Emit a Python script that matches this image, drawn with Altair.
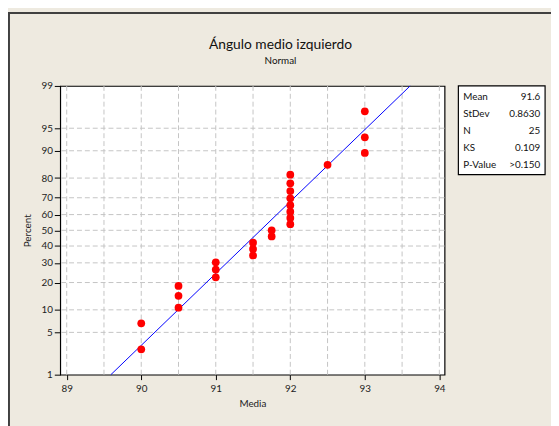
import altair as alt
import pandas as pd
from statistics import NormalDist

chart_title = "Ángulo medio izquierdo"
chart_subtitle = "Normal"
media = [90, 90, 90.5, 90.5, 90.5, 91, 91, 91, 91.5, 91.5, 91.5, 91.75, 91.75,
         92, 92, 92, 92, 92, 92, 92, 92, 92.5, 93, 93, 93]
fit_mean = 91.6
fit_sd = 0.8630
fit_percent = [1, 99]
percent_ticks = [1, 5, 10, 20, 30, 40, 50, 60, 70, 80, 90, 95, 99]
percent_grid = [5, 10, 20, 30, 40, 50, 60, 70, 80, 90, 95]
x_ticks = [89, 90, 91, 92, 93, 94]
x_grid = [89, 89.5, 90, 90.5, 91, 91.5, 92, 92.5, 93, 93.5, 94]
stat_labels = ["Mean", "StDev", "N", "KS", "P-Value"]
stat_values = ["91.6", "0.8630", "25", "0.109", ">0.150"]

FONT = "Lato"
W, H = 390, 293
nd = NormalDist()
z_lo, z_hi = nd.inv_cdf(0.01), nd.inv_cdf(0.99)
xscale = alt.Scale(domain=[88.913, 94.07], nice=False, zero=False)
yscale = alt.Scale(domain=[z_lo, z_hi], nice=False, zero=False)
one = pd.DataFrame({"a": [0]})

xaxis = alt.Axis(values=x_ticks, title="Media", grid=False, domain=False,
                 tickColor="black", tickSize=5, labelPadding=4, titlePadding=5,
                 labelFontSize=10, titleFontSize=10, titleFontWeight="normal",
                 labelFont=FONT, titleFont=FONT, labelColor="#222", titleColor="#222")
yaxis = alt.Axis(values=[nd.inv_cdf(p / 100) for p in percent_ticks],
                 labelExpr="format(cumulativeNormal(datum.value)*100, '.0f')",
                 title="Percent", grid=False, domain=False, tickColor="black",
                 tickSize=6, labelPadding=2, titlePadding=9, labelFontSize=10,
                 titleFontSize=10, titleFontWeight="normal", labelFont=FONT,
                 titleFont=FONT, labelColor="#222", titleColor="#222")

vgrid = alt.Chart(pd.DataFrame({"x": x_grid})).mark_rule(
    color="#c4c4c4", strokeDash=[5, 3], strokeWidth=1).encode(
    x=alt.X("x:Q", scale=xscale, axis=xaxis))
hgrid = alt.Chart(pd.DataFrame({"pct": percent_grid})).transform_calculate(
    z="quantileNormal(datum.pct/100)").mark_rule(
    color="#c4c4c4", strokeDash=[5, 3], strokeWidth=1).encode(
    y=alt.Y("z:Q", scale=yscale, axis=yaxis))

line = alt.Chart(pd.DataFrame({"pct": fit_percent})).transform_calculate(
    z="quantileNormal(datum.pct/100)").transform_calculate(
    x=f"{fit_mean} + {fit_sd}*datum.z").mark_line(color="#0000ff", strokeWidth=1).encode(
    x=alt.X("x:Q", scale=xscale, axis=xaxis),
    y=alt.Y("z:Q", scale=yscale, axis=yaxis))

n = len(media)
points = alt.Chart(pd.DataFrame({"Media": media})).transform_window(
    rank="row_number()", sort=[alt.SortField("Media")]).transform_calculate(
    z=f"quantileNormal((datum.rank - 0.3)/({n} + 0.4))").mark_circle(
    size=62, color="#ff0000", opacity=1).encode(
    x=alt.X("Media:Q", scale=xscale, axis=xaxis),
    y=alt.Y("z:Q", scale=yscale, axis=yaxis))

main = alt.layer(vgrid, hgrid, line, points)

border = alt.Chart(one).mark_rect(fillOpacity=0, stroke="#404040", strokeWidth=2).encode(
    x=alt.value(-52), x2=alt.value(700), y=alt.value(-74), y2=alt.value(700))
titles = alt.Chart(pd.DataFrame({"t": [chart_title], "s": [chart_subtitle]}))
title_mark = titles.mark_text(align="center", baseline="alphabetic", fontSize=14,
                              font=FONT, color="#111").encode(
    x=alt.value(223.5), y=alt.value(-37.5), text="t:N")
subtitle_mark = titles.mark_text(align="center", baseline="alphabetic", fontSize=10,
                                 font=FONT, color="#111").encode(
    x=alt.value(223.5), y=alt.value(-22), text="s:N")

stats_df = pd.DataFrame({"row": list(range(len(stat_labels))),
                         "label": stat_labels, "value": stat_values})
box = alt.Chart(one).mark_rect(fill="white", stroke="black", strokeWidth=1.2).encode(
    x=alt.value(404), x2=alt.value(492), y=alt.value(0), y2=alt.value(90))
rowscale = alt.Scale(domain=[0, 4], range=[11, 80])
lbl = alt.Chart(stats_df).mark_text(align="left", baseline="middle", fontSize=10,
                                    font=FONT, color="#111").encode(
    x=alt.value(409), y=alt.Y("row:Q", scale=rowscale, axis=None), text="label:N")
val = alt.Chart(stats_df).mark_text(align="right", baseline="middle", fontSize=10,
                                    font=FONT, color="#111").encode(
    x=alt.value(487), y=alt.Y("row:Q", scale=rowscale, axis=None), text="value:N")
side = alt.layer(border, title_mark, subtitle_mark, box, lbl, val)

chart = alt.layer(main, side).resolve_scale(y="independent").properties(
    width=W, height=H,
    padding={"left": 53, "top": 76, "right": 108, "bottom": 49},
    autosize=alt.AutoSizeParams(type="none"),
    background="#EEEAE0",
).configure_view(fill="white", stroke="black", strokeWidth=1.2)

chart.save("out.html", embed_options={"renderer": "svg", "actions": False})
